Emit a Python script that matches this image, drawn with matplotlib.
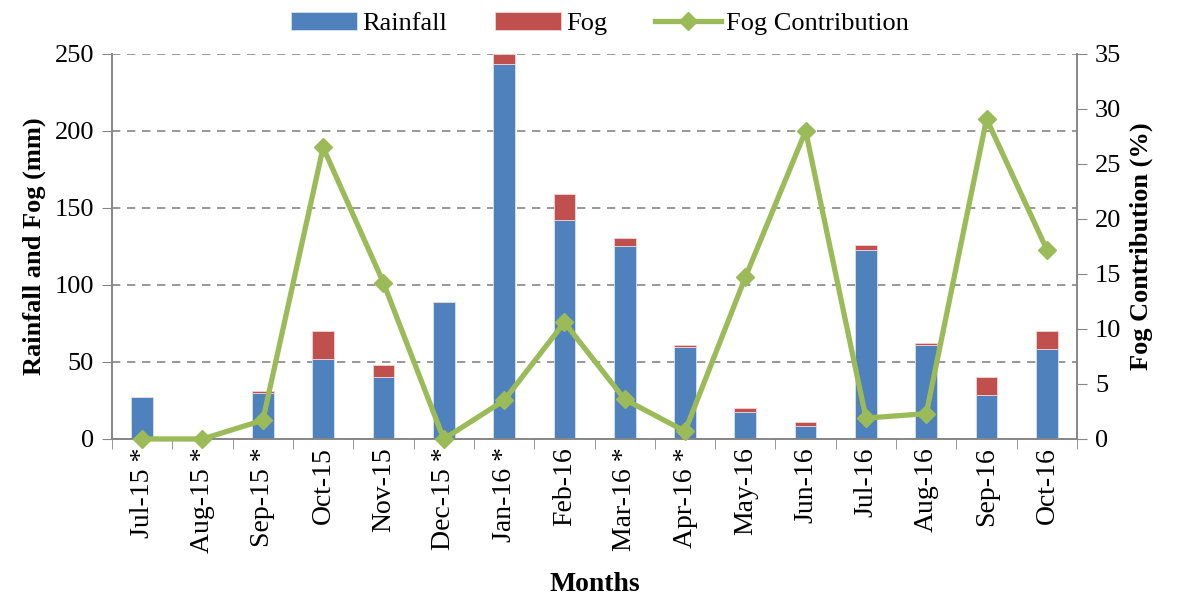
import numpy as np
import matplotlib
matplotlib.use("Agg")
import matplotlib.pyplot as plt
from matplotlib.ticker import FixedLocator

plt.rcParams['font.family'] = ['Liberation Serif', 'DejaVu Serif']

months = ['Jul-15 *', 'Aug-15 *', 'Sep-15 *', 'Oct-15', 'Nov-15', 'Dec-15 *', 'Jan-16 *', 'Feb-16',
          'Mar-16 *', 'Apr-16 *', 'May-16', 'Jun-16', 'Jul-16', 'Aug-16', 'Sep-16', 'Oct-16']
rainfall = [27.3, 0, 30, 52, 40, 89, 243.5, 142, 125, 60, 17.5, 8.5, 123, 61, 28.5, 58.5]
fog = [0, 0, 1, 18, 8, 0, 6.5, 17, 5.5, 1, 2.5, 2.5, 3, 1, 11.5, 11.5]
fog_contrib = [0, 0, 1.7, 26.5, 14.2, 0, 3.5, 10.6, 3.6, 0.7, 14.7, 28, 1.9, 2.3, 29.1, 17.2]

blue = '#4F81BD'
red = '#C0504D'
green = '#9BBB59'
gray = '#868686'

fig = plt.figure(figsize=(11.88, 6.01), dpi=100)
ax = fig.add_axes([0.0943, 0.2696, 0.8123, 0.6406])
ax2 = ax.twinx()

x = np.arange(len(months))
ax.bar(x, rainfall, width=0.36, color=blue, edgecolor='#D7E1EE', linewidth=0.6, label='Rainfall', zorder=2)
ax.bar(x, fog, width=0.36, bottom=rainfall, color=red, edgecolor='#F0D5D4', linewidth=0.6, label='Fog', zorder=2)
ax2.plot(x, fog_contrib, color=green, lw=3.8, marker='D', ms=9, label='Fog Contribution', zorder=3, clip_on=False)

ax.set_xlim(-0.5, len(months) - 0.5)
ax.set_ylim(0, 250)
ax2.set_ylim(0, 35)
ax.set_yticks(range(0, 251, 50))
ax2.set_yticks(range(0, 36, 5))
ax.yaxis.grid(True, ls=(0, (5, 4)), color=gray, lw=1.2, zorder=0)
ax.set_axisbelow(True)

ax.set_xticks(x)
ax.set_xticklabels(months, rotation=90, fontsize=20)
ax.xaxis.set_minor_locator(FixedLocator(np.arange(-0.5, len(months), 1)))
ax.tick_params(axis='x', which='major', length=0, pad=6)
ax.tick_params(axis='x', which='minor', length=7, color=gray, direction='out')
ax.tick_params(axis='y', labelsize=19, length=7, color=gray, direction='out', pad=6)
ax2.tick_params(axis='y', labelsize=19, length=7, color=gray, direction='out', pad=6)

for a in (ax, ax2):
    a.spines['top'].set_visible(False)
    for s in ('left', 'right', 'bottom'):
        a.spines[s].set_color(gray)
        a.spines[s].set_linewidth(1.2)

ax.set_ylabel('Rainfall and Fog (mm)', fontsize=19, fontweight='bold', labelpad=6)
ax2.set_ylabel('Fog Contribution (%)', fontsize=19, fontweight='bold', labelpad=6)
ax.set_xlabel('Months', fontsize=20, fontweight='bold', labelpad=14)

h1, l1 = ax.get_legend_handles_labels()
h2, l2 = ax2.get_legend_handles_labels()
fig.legend(h1 + h2, l1 + l2, loc='upper center', bbox_to_anchor=(0.505, 1.02), ncol=3,
           frameon=False, fontsize=19, handlelength=2.5, handletextpad=0.2, columnspacing=1.8)

fig.savefig('out.png', dpi=100)
